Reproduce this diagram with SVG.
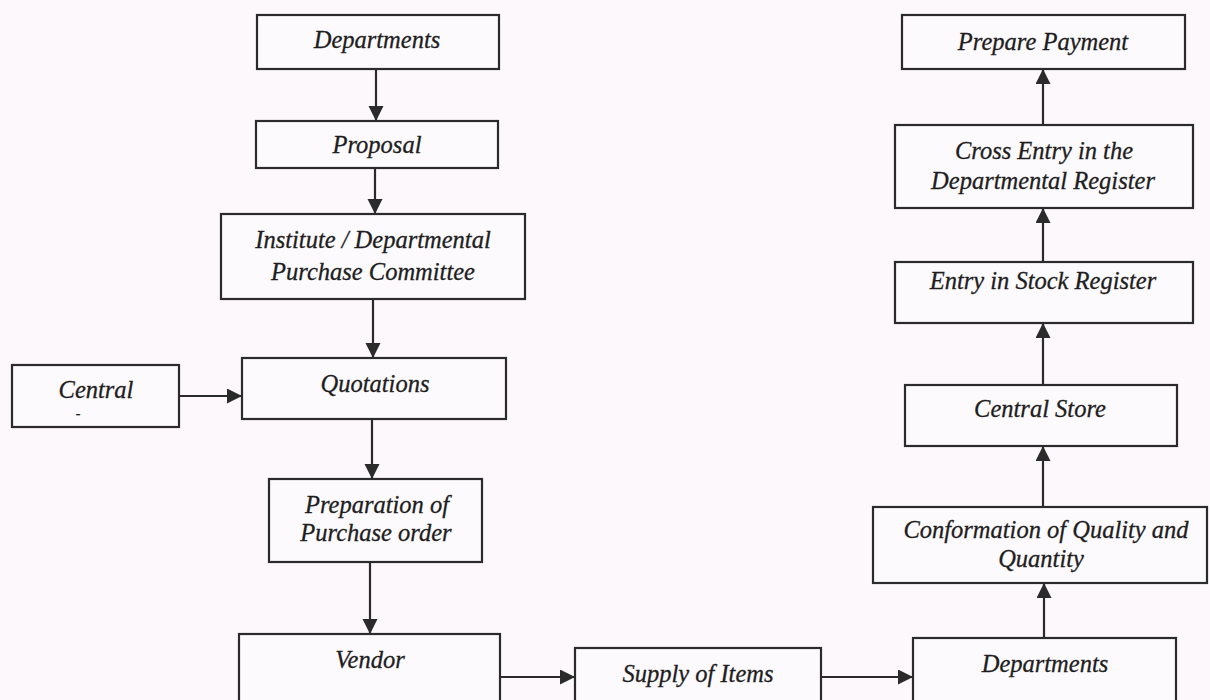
<svg xmlns="http://www.w3.org/2000/svg" width="1210" height="700" viewBox="0 0 1210 700">
<style>
  .box { fill: #fdfafd; stroke: #2b2b2b; stroke-width: 2.2; }
  .lbl { font-family: "Liberation Serif", "Times New Roman", serif; font-style: italic; font-size: 24.5px; fill: #1e1e1e; stroke: #1e1e1e; stroke-width: 0.3; text-anchor: middle; }
  .edge { fill: none; stroke: #2b2b2b; stroke-width: 2.2; marker-end: url(#arrow); }
</style>
<defs>
  <marker id="arrow" markerUnits="userSpaceOnUse" markerWidth="16" markerHeight="16" refX="15" refY="7.5" orient="auto">
    <path d="M0,0 L15,7.5 L0,15 Z" fill="#2b2b2b"/>
  </marker>
</defs>
<rect x="0" y="0" width="1210" height="700" fill="#fcf8fc"/>

<g id="edges">
  <line class="edge" x1="376" y1="69" x2="376" y2="121"/>
  <line class="edge" x1="375" y1="168" x2="375" y2="214"/>
  <line class="edge" x1="373" y1="299" x2="373" y2="358"/>
  <line class="edge" x1="179" y1="396" x2="242" y2="396"/>
  <line class="edge" x1="372" y1="419" x2="372" y2="479"/>
  <line class="edge" x1="370" y1="562" x2="370" y2="634"/>
  <line class="edge" x1="500" y1="677" x2="575" y2="677"/>
  <line class="edge" x1="821" y1="677" x2="913" y2="677"/>
  <line class="edge" x1="1044" y1="638" x2="1044" y2="583"/>
  <line class="edge" x1="1043" y1="507" x2="1043" y2="446"/>
  <line class="edge" x1="1043" y1="385" x2="1043" y2="323"/>
  <line class="edge" x1="1043" y1="262" x2="1043" y2="208"/>
  <line class="edge" x1="1043" y1="125" x2="1043" y2="69"/>
</g>

<g id="departments-top">
  <rect class="box" x="257" y="15" width="242" height="54"/>
  <text class="lbl" x="377" y="48">Departments</text>
</g>
<g id="proposal">
  <rect class="box" x="256" y="121" width="242" height="47"/>
  <text class="lbl" x="377" y="153">Proposal</text>
</g>
<g id="purchase-committee">
  <rect class="box" x="221" y="214" width="304" height="85"/>
  <text class="lbl" x="373" y="248">Institute / Departmental</text>
  <text class="lbl" x="373" y="280">Purchase Committee</text>
</g>
<g id="central">
  <rect class="box" x="12" y="365" width="167" height="62"/>
  <text class="lbl" x="96" y="398">Central</text>
  <text class="lbl" x="78" y="418" style="font-size:14px">-</text>
</g>
<g id="quotations">
  <rect class="box" x="242" y="358" width="264" height="61"/>
  <text class="lbl" x="375" y="392">Quotations</text>
</g>
<g id="purchase-order">
  <rect class="box" x="269" y="479" width="213" height="83"/>
  <text class="lbl" x="377" y="513">Preparation of</text>
  <text class="lbl" x="376" y="541">Purchase order</text>
</g>
<g id="vendor">
  <rect class="box" x="239" y="634" width="261" height="80"/>
  <text class="lbl" x="370" y="668">Vendor</text>
</g>
<g id="supply">
  <rect class="box" x="575" y="648" width="246" height="66"/>
  <text class="lbl" x="698" y="682">Supply of Items</text>
</g>
<g id="departments-bottom">
  <rect class="box" x="913" y="638" width="263" height="76"/>
  <text class="lbl" x="1045" y="672">Departments</text>
</g>
<g id="conformation">
  <rect class="box" x="873" y="507" width="334" height="76"/>
  <text class="lbl" x="1046" y="538">Conformation of Quality and</text>
  <text class="lbl" x="1041" y="567">Quantity</text>
</g>
<g id="central-store">
  <rect class="box" x="905" y="385" width="272" height="61"/>
  <text class="lbl" x="1040" y="417">Central Store</text>
</g>
<g id="stock-register">
  <rect class="box" x="895" y="262" width="298" height="61"/>
  <text class="lbl" x="1043" y="289">Entry in Stock Register</text>
</g>
<g id="cross-entry">
  <rect class="box" x="895" y="125" width="298" height="83"/>
  <text class="lbl" x="1044" y="159">Cross Entry in the</text>
  <text class="lbl" x="1043" y="189">Departmental Register</text>
</g>
<g id="prepare-payment">
  <rect class="box" x="902" y="15" width="283" height="54"/>
  <text class="lbl" x="1043" y="50">Prepare Payment</text>
</g>
</svg>
